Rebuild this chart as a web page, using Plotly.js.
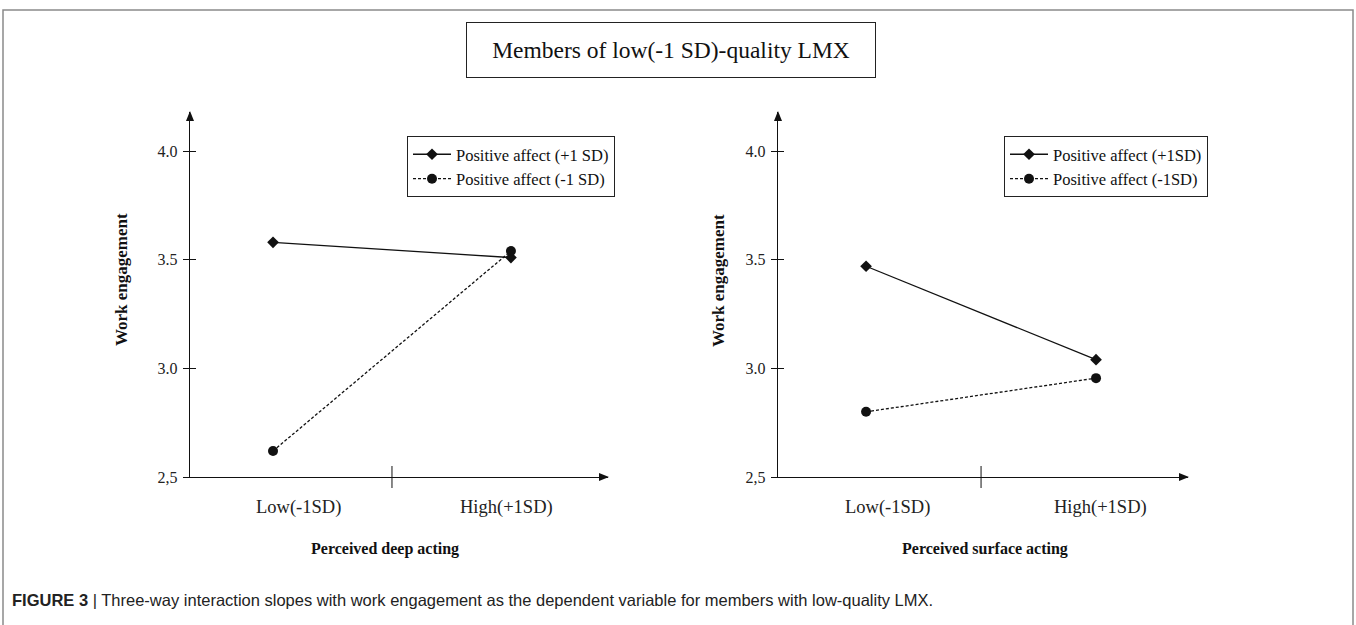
<!DOCTYPE html>
<html>
<head>
<meta charset="utf-8">
<script src="https://cdn.plot.ly/plotly-3.0.1.min.js"></script>
<style>html,body{margin:0;padding:0;background:#fff;}#chart{width:1356px;height:625px;}</style>
</head>
<body>
<div id="chart"></div>
<script>
// ---- data ----
const categories = ['Low(-1SD)', 'High(+1SD)'];
const deepPAHigh = [3.58, 3.51];   // Positive affect (+1 SD)
const deepPALow = [2.62, 3.54];    // Positive affect (-1 SD)
const surfPAHigh = [3.47, 3.04];   // Positive affect (+1SD)
const surfPALow = [2.80, 2.955];   // Positive affect (-1SD)
const legendLeft = ['Positive affect (+1 SD)', 'Positive affect (-1 SD)'];
const legendRight = ['Positive affect (+1SD)', 'Positive affect (-1SD)'];
const yTickVals = [2.5, 3.0, 3.5, 4.0];
const yTickText = ['2,5', '3.0', '3.5', '4.0'];
const chartTitle = 'Members of low(-1 SD)-quality LMX';
const yTitle = 'Work engagement';
const xTitleLeft = 'Perceived deep acting';
const xTitleRight = 'Perceived surface acting';
const caption = '<b>FIGURE 3</b> | Three-way interaction slopes with work engagement as the dependent variable for members with low-quality LMX.';

// ---- layout helpers ----
const W = 1356, H = 625;
const px = v => v / W;
const py = v => 1 - v / H;
const SERIF = 'Liberation Serif, Times New Roman, serif';
const INK = '#111';

function lineTrace(y, xa, ya, name, leg, dashed) {
  return {
    x: categories, y: y, xaxis: xa, yaxis: ya, type: 'scatter', mode: 'lines+markers',
    name: name, legend: leg, hoverinfo: 'skip',
    line: {color: INK, width: 1.3, dash: dashed ? '3px,2px' : 'solid'},
    marker: {symbol: dashed ? 'circle' : 'diamond', size: dashed ? 10 : 9, color: INK}
  };
}

const data = [
  lineTrace(deepPAHigh, 'x', 'y', legendLeft[0], 'legend', false),
  lineTrace(deepPALow, 'x', 'y', legendLeft[1], 'legend', true),
  lineTrace(surfPAHigh, 'x2', 'y2', legendRight[0], 'legend2', false),
  lineTrace(surfPALow, 'x2', 'y2', legendRight[1], 'legend2', true)
];

const plots = [
  {x0: 190, x1: 608, xr: [-0.349, 1.408], lab: [298 - 273, 507 - 511], xt: 385, yt: 122, lx: 407},
  {x0: 778, x1: 1188, xr: [-0.383, 1.40], lab: [887 - 866, 1100 - 1096], xt: 985, yt: 719, lx: 1004}
];
const yTop = 112, yBot = 477;

function xAxis(p, anchor) {
  return {
    type: 'category', categoryarray: categories, range: p.xr,
    domain: [px(p.x0), px(p.x1)], anchor: anchor,
    showline: true, linecolor: INK, linewidth: 1.2, ticks: '', showticklabels: false,
    showgrid: false, zeroline: false, fixedrange: true
  };
}
function yAxis(p, anchor) {
  return {
    range: [2.5, 4.18], domain: [py(yBot), py(yTop)], anchor: anchor,
    showline: true, linecolor: INK, linewidth: 1.2,
    tickmode: 'array', tickvals: yTickVals, ticktext: yTickText,
    ticks: 'outside', ticklen: 6, tickcolor: INK, tickwidth: 1, ticklabelstandoff: 2,
    minor: {tickmode: 'array', tickvals: yTickVals.slice(1), ticks: 'inside', ticklen: 6, tickcolor: INK, tickwidth: 1, showgrid: false},
    tickfont: {family: SERIF, size: 16, color: '#222'},
    showgrid: false, zeroline: false, fixedrange: true
  };
}

const shapes = [
  {type: 'rect', xref: 'paper', yref: 'paper', x0: px(3), x1: px(1353), y0: -0.2, y1: py(10),
   line: {color: '#8a8a8a', width: 1.5}, layer: 'below'}
];
const annotations = [
  {xref: 'paper', yref: 'paper', x: px(671), y: py(50), text: chartTitle, showarrow: false,
   font: {family: SERIF, size: 23.5, color: INK}, width: 408, height: 54, borderpad: 0,
   bordercolor: '#222', borderwidth: 1, bgcolor: '#fff', xanchor: 'center', yanchor: 'middle'},
  {xref: 'paper', yref: 'paper', x: px(10), y: py(600), xanchor: 'left', yanchor: 'middle',
   text: caption, showarrow: false, font: {family: 'Liberation Sans, Arial, sans-serif', size: 16.5, color: '#222'}}
];

plots.forEach((p, i) => {
  const xa = i === 0 ? 'x' : 'x2';
  // arrowheads
  shapes.push({type: 'path', xref: 'paper', yref: 'paper', xsizemode: 'pixel', ysizemode: 'pixel',
    xanchor: px(p.x0), yanchor: py(yTop), path: 'M0,1 L-4,-9 L4,-9 Z', fillcolor: INK, line: {width: 0}});
  shapes.push({type: 'path', xref: 'paper', yref: 'paper', xsizemode: 'pixel', ysizemode: 'pixel',
    xanchor: px(p.x1), yanchor: py(yBot), path: 'M1,0 L-9,4 L-9,-4 Z', fillcolor: INK, line: {width: 0}});
  // middle division tick on the x axis
  shapes.push({type: 'line', xref: xa, yref: 'paper', ysizemode: 'pixel', yanchor: py(yBot),
    x0: 0.5, x1: 0.5, y0: -11, y1: 11, line: {color: INK, width: 1}});
  // category labels
  categories.forEach((c, k) => {
    annotations.push({xref: xa, yref: 'paper', x: c, y: py(507), xshift: p.lab[k], text: c,
      showarrow: false, font: {family: SERIF, size: 18.5, color: '#222'}, xanchor: 'center', yanchor: 'middle'});
  });
  annotations.push({xref: 'paper', yref: 'paper', x: px(p.xt), y: py(549), text: '<b>' + (i === 0 ? xTitleLeft : xTitleRight) + '</b>',
    showarrow: false, font: {family: SERIF, size: 16, color: INK}, xanchor: 'center', yanchor: 'middle'});
  annotations.push({xref: 'paper', yref: 'paper', x: px(p.yt), y: py(280), text: '<b>' + yTitle + '</b>', textangle: -90,
    showarrow: false, font: {family: SERIF, size: 17, color: INK}, xanchor: 'center', yanchor: 'middle'});
});

function legendCfg(x) {
  return {x: px(x), y: py(136), xanchor: 'left', yanchor: 'top', bgcolor: '#fff', itemwidth: 38,
    bordercolor: '#222', borderwidth: 1, font: {family: SERIF, size: 16.5, color: INK}, tracegroupgap: 0};
}

const layout = {
  width: W, height: H, margin: {l: 0, r: 0, t: 0, b: 0},
  paper_bgcolor: '#fff', plot_bgcolor: 'rgba(0,0,0,0)',
  showlegend: true,
  xaxis: xAxis(plots[0], 'y'), yaxis: yAxis(plots[0], 'x'),
  xaxis2: xAxis(plots[1], 'y2'), yaxis2: yAxis(plots[1], 'x2'),
  legend: legendCfg(plots[0].lx), legend2: legendCfg(plots[1].lx),
  shapes: shapes, annotations: annotations
};

Plotly.newPlot('chart', data, layout, {displayModeBar: false, staticPlot: true});
</script>
</body>
</html>
